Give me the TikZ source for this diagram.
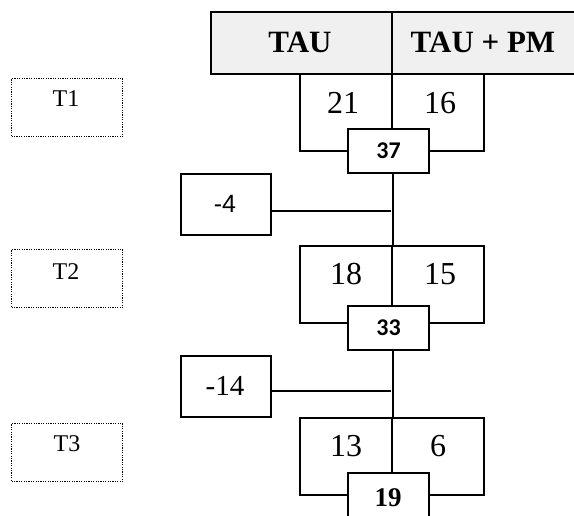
\documentclass[tikz,border=0pt]{standalone}
\usepackage{fontspec}
\setmainfont{Liberation Serif}
\newfontfamily\arialf{Liberation Sans}
\newfontfamily\calibf{Carlito}
\begin{document}
\begin{tikzpicture}[x=1pt,y=-1pt,
  box/.style={draw,line width=2pt,rectangle,inner sep=0pt,anchor=north west},
  hdr/.style={box,fill=black!6,minimum height=62pt},
  half/.style={box,minimum width=92pt,minimum height=77pt},
  numbox/.style={box,fill=white,minimum width=81pt,minimum height=44pt},
  diffbox/.style={box,minimum width=90pt,minimum height=61pt},
  tbox/.style={draw,line width=1.2pt,dash pattern=on 1.2pt off 1.2pt,rectangle,inner sep=0pt,anchor=north west,minimum width=111pt,minimum height=58pt},
  lnk/.style={line width=2pt},
  big/.style={font=\fontsize{32}{32}\selectfont},
  hfont/.style={font=\fontsize{31}{31}\selectfont\bfseries},
  tfont/.style={font=\fontsize{24}{24}\selectfont},
  sumfont/.style={font=\calibf\fontsize{24}{24}\selectfont\bfseries},
]
\useasboundingbox (0,0) rectangle (574,515);
% header
\node[hdr,minimum width=181pt] (hL) at (210,11) {};
\node[hdr,minimum width=184pt] (hR) at (391,11) {};
\node[hfont] (hLt) at (300,42) {TAU};
\node[hfont] (hRt) at (483,42) {TAU + PM};
% T labels
\node[tbox] (t1) at (11,78) {};
\node[tfont] (t1t) at (66,99) {T1};
\node[tbox] (t2) at (11,249) {};
\node[tfont] (t2t) at (66,272) {T2};
\node[tbox] (t3) at (11,423) {};
\node[tfont] (t3t) at (67,444) {T3};
% row 1
\node[half] (a1) at (299,73) {};
\node[half] (b1) at (391,73) {};
\node[big] (a1t) at (343,103) {21};
\node[big] (b1t) at (440,103) {16};
\node[numbox,sumfont] (n1) at (347,128) {37};
% row 2
\node[half] (a2) at (299,245) {};
\node[half] (b2) at (391,245) {};
\node[big] (a2t) at (346,274) {18};
\node[big] (b2t) at (440,274) {15};
\node[numbox,sumfont] (n2) at (347,305) {33};
% row 3
\node[half] (a3) at (299,417) {};
\node[half] (b3) at (391,417) {};
\node[big] (a3t) at (346,446) {13};
\node[big] (b3t) at (438,446) {6};
\node[numbox,minimum height=60pt] (n3) at (347,472) {};
\node[font=\fontsize{27}{27}\selectfont\bfseries] (n3t) at (388,498) {19};
% differences
\node[diffbox] (d1) at (180,173) {};
\node[font=\arialf\fontsize{25}{25}\selectfont] (d1t) at (225,204) {-4};
\node[diffbox] (d2) at (180,355) {};
\node[font=\fontsize{29}{29}\selectfont] (d2t) at (225,386) {-14};
% connectors
\coordinate (j1) at (391,211);
\coordinate (j2) at (391,391);
\draw[lnk] (a1.north east |- n1.south) -- (a2.north east);
\draw[lnk] (a2.north east |- n2.south) -- (a3.north east);
\draw[lnk] (d1.east |- j1) -- (j1);
\draw[lnk] (d2.east |- j2) -- (j2);
\end{tikzpicture}
\end{document}
